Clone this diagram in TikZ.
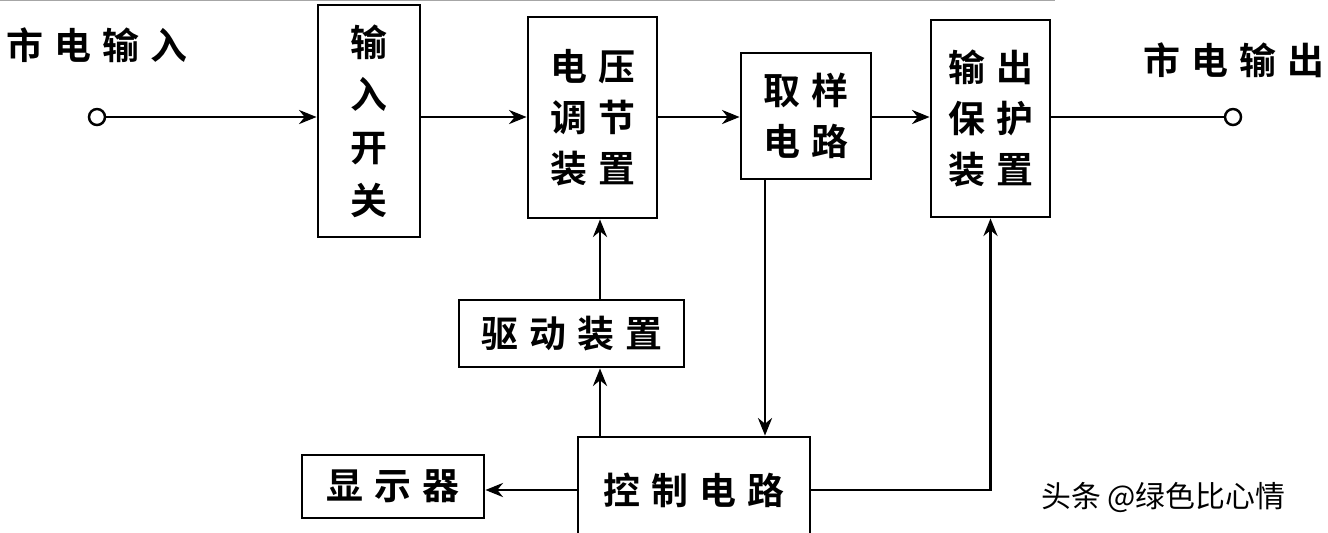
\documentclass[tikz,border=0pt]{standalone}
\usepackage{fontspec}
\setmainfont{Noto Sans CJK SC Bold}
\newfontfamily\wm{Noto Sans CJK SC}
\usetikzlibrary{arrows.meta}
\newcommand{\gp}{\hspace{0.3em}}
\begin{document}
\begin{tikzpicture}[
  box/.style={draw,line width=1.6pt,inner sep=0pt,align=center,font=\fontsize{21}{29}\selectfont},
  arr/.style={line width=1.6pt,-{Stealth[length=10pt,width=8pt]}},
  ln/.style={line width=1.6pt},
  lbl/.style={font=\fontsize{21}{24}\selectfont}]
\useasboundingbox (0,0) rectangle (26.56,-10.64);
\fill[white] (0,0) rectangle (26.56,-10.64);
\draw[gray!70,line width=1pt] (0,-0.01) -- (21.1,-0.01);
\node[box,minimum width=2.04cm,minimum height=4.64cm,font=\fontsize{21}{30}\selectfont] (sw) at (7.38,-2.42) {输\\入\\开\\关};
\node[box,minimum width=2.58cm,minimum height=4.02cm] (vol) at (11.85,-2.35) {电\gp 压\\调\gp 节\\装\gp 置};
\node[box,minimum width=2.6cm,minimum height=2.52cm] (smp) at (16.12,-2.32) {取\gp 样\\电\gp 路};
\node[box,minimum width=2.38cm,minimum height=3.94cm] (out) at (19.81,-2.37) {输\gp 出\\保\gp 护\\装\gp 置};
\node[box,minimum width=4.5cm,minimum height=1.34cm] (drv) at (11.43,-6.67) {驱\gp 动\gp 装\gp 置};
\node[box,minimum width=4.64cm,minimum height=2.12cm] (ctl) at (13.88,-9.8) {控\gp 制\gp 电\gp 路};
\node[box,minimum width=3.64cm,minimum height=1.26cm] (dsp) at (7.86,-9.73) {显\gp 示\gp 器};
\node[draw,circle,line width=1.4pt,minimum size=0.32cm,inner sep=0pt] (in) at (1.94,-2.34) {};
\node[draw,circle,line width=1.4pt,minimum size=0.32cm,inner sep=0pt] (o) at (24.66,-2.34) {};
\node[lbl,anchor=west] (tin) at (0.0,-0.9) {市\gp 电\gp 输\gp 入};
\node[lbl,anchor=west] (tout) at (22.75,-1.2) {市\gp 电\gp 输\gp 出};
\node[font=\wm\fontsize{17}{20}\selectfont,anchor=west] (wm) at (20.7,-9.94) {头条 @绿色比心情};
\draw[arr] (in) -- (sw.west |- in);
\draw[arr] (sw.east |- in) -- (vol.west |- in);
\draw[arr] (vol.east |- in) -- (smp.west |- in);
\draw[arr] (smp.east |- in) -- (out.west |- in);
\draw[ln] (out.east |- in) -- (o);
\coordinate (c1) at (12,0);
\coordinate (c2) at (15.3,0);
\draw[arr] (drv.north -| c1) -- (vol.south -| c1);
\draw[arr] (ctl.north -| c1) -- (drv.south -| c1);
\draw[arr] (smp.south -| c2) -- (ctl.north -| c2);
\draw[arr] (ctl.west) -- (ctl.west -| dsp.east);
\draw[arr] (ctl.east) -| (out.south);
\end{tikzpicture}
\end{document}
